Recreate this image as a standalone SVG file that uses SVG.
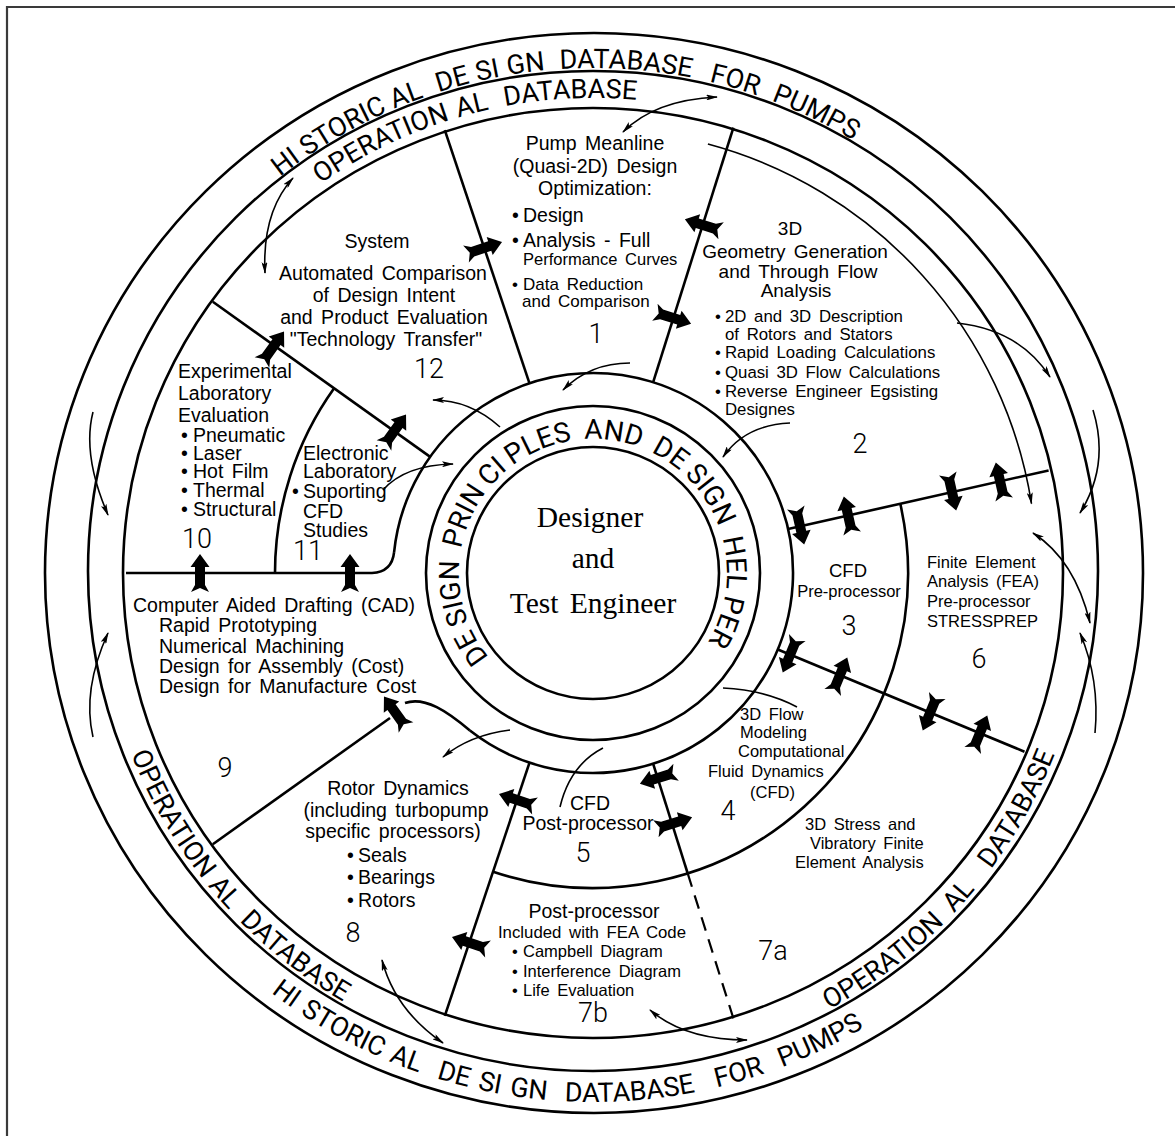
<svg xmlns="http://www.w3.org/2000/svg" width="1175" height="1136" viewBox="0 0 1175 1136">
  <style>
    .ln { fill: none; stroke: #000; stroke-width: 2.6; }
    .dash { fill: none; stroke: #000; stroke-width: 2.2; stroke-dasharray: 14 9; }
    .thin { fill: none; stroke: #000; stroke-width: 1.6; }
    .frame { fill: none; stroke: #3a3a3a; stroke-width: 2.2; }
    .t { font-family: "Liberation Sans", Arial, sans-serif; fill: #000; word-spacing: 3px; }
    .s20 { font-size: 19.5px; }
    .s17 { font-size: 16.8px; }
    .mid { text-anchor: middle; }
    .num { font-family: Roboto, "DejaVu Sans", sans-serif; font-weight: 300; font-size: 27px; fill: #000; }
    .ring { font-family: Roboto, "DejaVu Sans", sans-serif; font-size: 27px; fill: #000; }
    .hub { font-family: Roboto, "DejaVu Sans", sans-serif; font-size: 28px; fill: #000; }
    .serif { font-family: "Liberation Serif", "Times New Roman", serif; font-size: 29.5px; text-anchor: middle; fill: #000; word-spacing: 4px; }
    .blk { fill: #000; }
  </style>
  <defs>
    <marker id="ah" viewBox="0 0 12 6" refX="11" refY="3" markerWidth="12" markerHeight="6" markerUnits="userSpaceOnUse" orient="auto-start-reverse">
      <path d="M0,0 L12,3 L0,6 L2.5,3 Z" fill="#000"/>
    </marker>
    <!-- fletched block arrow, pointing along +x, centred on its shaft -->
    <path id="ba" d="M19,0 L6,-9.5 L6,-5 L-12,-5 L-19,-9 L-15,0 L-19,9 L-12,5 L6,5 L6,9.5 Z"/>
    <!-- baselines for the lettering on the rings (centre 593,573) -->
    <path id="histTop" d="M206.2,248.4 A505,505 0 0 1 950.1,215.9"/>
    <path id="histBot" d="M187.8,913 A529,529 0 0 0 967.1,947.1"/>
    <path id="opTop" d="M229.1,267.7 A475,475 0 0 1 755.5,126.6"/>
    <path id="opLeft" d="M104.5,659.1 A496,496 0 0 0 464.6,1052.1"/>
    <path id="opRight" d="M721.4,1052.1 A496,496 0 0 0 1081.5,659.1"/>
    <path id="hubPath" d="M506.9,675.6 A134,134 0 1 1 695.6,659.1"/>
  </defs>

  <rect width="1175" height="1136" fill="#fff"/>
  <path class="frame" d="M7,1136 L7,7 L1175,7"/>

  <!-- outer database rings -->
  <g id="historical-database">
    <ellipse class="ln" cx="594" cy="573" rx="549" ry="540"/>
    <text class="ring"><textPath href="#histTop" startOffset="103.1">HI</textPath></text>
    <text class="ring"><textPath href="#histTop" startOffset="137">STORIC</textPath></text>
    <text class="ring"><textPath href="#histTop" startOffset="236.2">AL</textPath></text>
    <text class="ring"><textPath href="#histTop" startOffset="283.6">DE</textPath></text>
    <text class="ring"><textPath href="#histTop" startOffset="324.2">SI</textPath></text>
    <text class="ring"><textPath href="#histTop" startOffset="355.3">GN</textPath></text>
    <text class="ring"><textPath href="#histTop" startOffset="407.5">DATABASE</textPath></text>
    <text class="ring"><textPath href="#histTop" startOffset="557.6">FOR</textPath></text>
    <text class="ring"><textPath href="#histTop" startOffset="622.7">PUMPS</textPath></text>
    <text class="ring"><textPath href="#histBot" startOffset="115.4">HI</textPath></text>
    <text class="ring"><textPath href="#histBot" startOffset="150.9">STORIC</textPath></text>
    <text class="ring"><textPath href="#histBot" startOffset="251.8">AL</textPath></text>
    <text class="ring"><textPath href="#histBot" startOffset="302.5">DE</textPath></text>
    <text class="ring"><textPath href="#histBot" startOffset="344.8">SI</textPath></text>
    <text class="ring"><textPath href="#histBot" startOffset="377.5">GN</textPath></text>
    <text class="ring"><textPath href="#histBot" startOffset="433">DATABASE</textPath></text>
    <text class="ring"><textPath href="#histBot" startOffset="586.4">FOR</textPath></text>
    <text class="ring"><textPath href="#histBot" startOffset="654.8">PUMPS</textPath></text>
  </g>
  <g id="operational-database">
    <ellipse class="ln" cx="593" cy="571" rx="505" ry="500"/>
    <ellipse class="ln" cx="593" cy="573" rx="470" ry="465"/>
    <text class="ring"><textPath href="#opTop" startOffset="124.4">OPERATION</textPath></text>
    <text class="ring"><textPath href="#opTop" startOffset="277.9">AL</textPath></text>
    <text class="ring"><textPath href="#opTop" startOffset="326.1">DATABASE</textPath></text>
    <text class="ring"><textPath href="#opLeft" startOffset="98.7">OPERATION</textPath></text>
    <text class="ring"><textPath href="#opLeft" startOffset="251.7">AL</textPath></text>
    <text class="ring"><textPath href="#opLeft" startOffset="298.9">DATABASE</textPath></text>
    <text class="ring"><textPath href="#opRight" startOffset="116">OPERATION</textPath></text>
    <text class="ring"><textPath href="#opRight" startOffset="274.2">AL</textPath></text>
    <text class="ring"><textPath href="#opRight" startOffset="331.8">DATABASE</textPath></text>
  </g>

  <!-- central hub -->
  <g id="design-helper">
    <path class="ln" d="M394.1,552.1 A200,200 0 1 1 469.9,730.6"/>
    <circle class="ln" cx="593" cy="573" r="167"/>
    <text class="hub"><textPath href="#hubPath" startOffset="25.7">DE</textPath></text>
    <text class="hub"><textPath href="#hubPath" startOffset="66.1">SIGN</textPath></text>
    <text class="hub"><textPath href="#hubPath" startOffset="141">PRIN</textPath></text>
    <text class="hub"><textPath href="#hubPath" startOffset="209.3">CI</textPath></text>
    <text class="hub"><textPath href="#hubPath" startOffset="241">PLES</textPath></text>
    <text class="hub"><textPath href="#hubPath" startOffset="318.6">AND</textPath></text>
    <text class="hub"><textPath href="#hubPath" startOffset="387.1">DE</textPath></text>
    <text class="hub"><textPath href="#hubPath" startOffset="427.5">SIGN</textPath></text>
    <text class="hub"><textPath href="#hubPath" startOffset="502.4">HEL</textPath></text>
    <text class="hub"><textPath href="#hubPath" startOffset="559.1">PER</textPath></text>
  </g>
  <g id="designer">
    <circle class="ln" cx="593" cy="573" r="126"/>
    <text class="serif" x="590" y="527">Designer</text>
    <text class="serif" x="593" y="568">and</text>
    <text class="serif" x="593" y="613">Test Engineer</text>
  </g>

  <!-- sector boundaries and links -->
  <g id="connectors">
    <path class="ln" d="M529.5,383.3 L444.8,130.1"/>
    <path class="ln" d="M653.1,382.3 L733.4,127.6"/>
    <path class="ln" d="M788.1,529 L1048.6,470.4"/>
    <path class="ln" d="M777.8,649.5 L1024.5,751.7"/>
    <path class="ln" d="M653.1,763.7 L687.7,873.4"/>
    <path class="dash" d="M687.7,873.4 L733.4,1018.4"/>
    <path class="ln" d="M529.5,762.7 L444.8,1015.9"/>
    <path class="ln" d="M212.8,844.2 L390,718"/>
    <path class="ln" d="M126,573 L372,573 Q392,572 394.1,552.1"/>
    <path class="ln" d="M212.8,301.8 L430.2,456.9"/>
    <path class="ln" d="M334.1,388.3 A318,318 0 0 0 275,573"/>
    <path class="ln" d="M900.3,503.8 A315,315 0 0 1 493.1,871.7"/>
    <path class="ln" d="M405,703 C425,696 448,712 469.9,730.6"/>

    <!-- long curved arrow through sector 2 -->
    <path class="thin" marker-end="url(#ah)" d="M707.9,144.1 A444,444 0 0 1 1031.5,503.6"/>

    <!-- exchanges with the database rings -->
    <path class="thin" marker-start="url(#ah)" marker-end="url(#ah)" d="M265,273 Q262,212 293,178"/>
    <path class="thin" marker-start="url(#ah)" marker-end="url(#ah)" d="M623,132 Q655,100 717,97"/>
    <path class="thin" marker-end="url(#ah)" d="M957,323 Q1020,330 1050,377"/>
    <path class="thin" marker-end="url(#ah)" d="M1093,410 Q1110,465 1080,513"/>
    <path class="thin" marker-start="url(#ah)" marker-end="url(#ah)" d="M1033,533 Q1075,560 1090,623"/>
    <path class="thin" marker-start="url(#ah)" d="M1080,633 Q1100,680 1095,733"/>
    <path class="thin" marker-end="url(#ah)" d="M93,412 Q82,455 108,515"/>
    <path class="thin" marker-end="url(#ah)" d="M93,737 Q82,690 108,633"/>
    <path class="thin" marker-start="url(#ah)" marker-end="url(#ah)" d="M382,960 Q395,1010 443,1043"/>
    <path class="thin" marker-start="url(#ah)" marker-end="url(#ah)" d="M650,1010 Q685,1040 747,1040"/>

    <!-- exchanges with the design helper -->
    <path class="thin" marker-end="url(#ah)" d="M630,363 Q590,363 563,390"/>
    <path class="thin" marker-end="url(#ah)" d="M500,427 Q470,400 433,400"/>
    <path class="thin" marker-end="url(#ah)" d="M790,423 Q745,425 723,457"/>
    <path class="thin" marker-end="url(#ah)" d="M383,490 Q405,465 453,464"/>
    <path class="thin" marker-end="url(#ah)" d="M510,730 Q470,735 443,757"/>
    <path class="thin" d="M560,807 Q570,765 603,748"/>
    <path class="thin" d="M723,688 Q765,690 797,707"/>

    <!-- block arrows between neighbouring tasks -->
    <use href="#ba" class="blk" transform="translate(484,248) rotate(-18.5)"/>
    <use href="#ba" class="blk" transform="translate(703,225) rotate(-162.5)"/>
    <use href="#ba" class="blk" transform="translate(673,318) rotate(17.5)"/>
    <use href="#ba" class="blk" transform="translate(273,347) rotate(-54.5)"/>
    <use href="#ba" class="blk" transform="translate(395,430) rotate(-54.5)"/>
    <use href="#ba" class="blk" transform="translate(200,573) rotate(-90)"/>
    <use href="#ba" class="blk" transform="translate(350,573) rotate(-90)"/>
    <use href="#ba" class="blk" transform="translate(395,712) rotate(-125.5)"/>
    <use href="#ba" class="blk" transform="translate(517,800) rotate(198.5)"/>
    <use href="#ba" class="blk" transform="translate(658,778) rotate(162.5)"/>
    <use href="#ba" class="blk" transform="translate(674,823) rotate(-17.5)"/>
    <use href="#ba" class="blk" transform="translate(470,943) rotate(198.5)"/>
    <use href="#ba" class="blk" transform="translate(800,526) rotate(77.3)"/>
    <use href="#ba" class="blk" transform="translate(848,515) rotate(-102.7)"/>
    <use href="#ba" class="blk" transform="translate(952,492) rotate(77.3)"/>
    <use href="#ba" class="blk" transform="translate(1000,481) rotate(-102.7)"/>
    <use href="#ba" class="blk" transform="translate(790,655) rotate(112.5)"/>
    <use href="#ba" class="blk" transform="translate(840,675) rotate(-67.5)"/>
    <use href="#ba" class="blk" transform="translate(930,713) rotate(112.5)"/>
    <use href="#ba" class="blk" transform="translate(980,733) rotate(-67.5)"/>
  </g>

  <!-- task sectors -->
  <g id="sector-1">
    <text class="t s20 mid" x="595" y="150">Pump Meanline</text>
    <text class="t s20 mid" x="595" y="173">(Quasi-2D) Design</text>
    <text class="t s20 mid" x="595" y="195">Optimization:</text>
    <text class="t s20" y="222"><tspan x="512">•</tspan><tspan x="523">Design</tspan></text>
    <text class="t s20" y="247"><tspan x="512">•</tspan><tspan x="523">Analysis - Full</tspan></text>
    <text class="t" font-size="16.5" x="523" y="265">Performance Curves</text>
    <text class="t" font-size="17" y="290"><tspan x="512">•</tspan><tspan x="523">Data Reduction</tspan></text>
    <text class="t" font-size="17" x="522" y="307">and Comparison</text>
    <text class="num mid" x="596" y="343">1</text>
  </g>
  <g id="sector-2">
    <text class="t mid" font-size="19" x="790" y="235">3D</text>
    <text class="t mid" font-size="19" x="795" y="258">Geometry Generation</text>
    <text class="t mid" font-size="19" x="798" y="278">and Through Flow</text>
    <text class="t mid" font-size="19" x="796" y="297">Analysis</text>
    <text class="t s17" y="322"><tspan x="715">•</tspan><tspan x="725">2D and 3D Description</tspan></text>
    <text class="t s17" x="725" y="340">of Rotors and Stators</text>
    <text class="t s17" y="358"><tspan x="715">•</tspan><tspan x="725">Rapid Loading Calculations</tspan></text>
    <text class="t s17" y="378"><tspan x="715">•</tspan><tspan x="725">Quasi 3D Flow Calculations</tspan></text>
    <text class="t s17" y="397"><tspan x="715">•</tspan><tspan x="725">Reverse Engineer Egsisting</tspan></text>
    <text class="t s17" x="725" y="415">Designes</text>
    <text class="num mid" x="860" y="453">2</text>
  </g>
  <g id="sector-3">
    <text class="t mid" font-size="18.5" x="848" y="577">CFD</text>
    <text class="t mid" font-size="16.5" x="849" y="597">Pre-processor</text>
    <text class="num mid" x="849" y="635">3</text>
  </g>
  <g id="sector-4">
    <text class="t" font-size="16.5" x="740" y="720">3D Flow</text>
    <text class="t" font-size="16.5" x="740" y="738">Modeling</text>
    <text class="t" font-size="16.5" x="738" y="757">Computational</text>
    <text class="t" font-size="16.5" x="708" y="777">Fluid Dynamics</text>
    <text class="t" font-size="16.5" x="750" y="798">(CFD)</text>
    <text class="num mid" x="728" y="820">4</text>
  </g>
  <g id="sector-5">
    <text class="t s20 mid" x="590" y="810">CFD</text>
    <text class="t s20 mid" x="588" y="830">Post-processor</text>
    <text class="num mid" x="583" y="862">5</text>
  </g>
  <g id="sector-6">
    <text class="t" font-size="16.5" x="927" y="568">Finite Element</text>
    <text class="t" font-size="16.5" x="927" y="587">Analysis (FEA)</text>
    <text class="t" font-size="16.5" x="927" y="607">Pre-processor</text>
    <text class="t" font-size="16.5" x="927" y="627">STRESSPREP</text>
    <text class="num mid" x="979" y="668">6</text>
  </g>
  <g id="sector-7a">
    <text class="t" font-size="16.5" x="805" y="830">3D Stress and</text>
    <text class="t" font-size="16.5" x="810" y="849">Vibratory Finite</text>
    <text class="t" font-size="16.5" x="795" y="868">Element Analysis</text>
    <text class="num mid" x="773" y="960">7a</text>
  </g>
  <g id="sector-7b">
    <text class="t s20 mid" x="594" y="918">Post-processor</text>
    <text class="t s17 mid" x="592" y="938">Included with FEA Code</text>
    <text class="t" font-size="16.5" y="957"><tspan x="512">•</tspan><tspan x="523">Campbell Diagram</tspan></text>
    <text class="t" font-size="16.5" y="977"><tspan x="512">•</tspan><tspan x="523">Interference Diagram</tspan></text>
    <text class="t" font-size="16.5" y="996"><tspan x="512">•</tspan><tspan x="523">Life Evaluation</tspan></text>
    <text class="num mid" x="593" y="1022">7b</text>
  </g>
  <g id="sector-8">
    <text class="t s20 mid" x="398" y="795">Rotor Dynamics</text>
    <text class="t s20 mid" x="396" y="817">(including turbopump</text>
    <text class="t s20 mid" x="393" y="838">specific processors)</text>
    <text class="t s20" y="862"><tspan x="347">•</tspan><tspan x="358">Seals</tspan></text>
    <text class="t s20" y="884"><tspan x="347">•</tspan><tspan x="358">Bearings</tspan></text>
    <text class="t s20" y="907"><tspan x="347">•</tspan><tspan x="358">Rotors</tspan></text>
    <text class="num mid" x="353" y="942">8</text>
  </g>
  <g id="sector-9">
    <text class="t s20" x="133" y="612">Computer Aided Drafting (CAD)</text>
    <text class="t s20" x="159" y="632">Rapid Prototyping</text>
    <text class="t s20" x="159" y="653">Numerical Machining</text>
    <text class="t s20" x="159" y="673">Design for Assembly (Cost)</text>
    <text class="t s20" x="159" y="693">Design for Manufacture Cost</text>
    <text class="num mid" x="225" y="777">9</text>
  </g>
  <g id="sector-10">
    <text class="t s20" x="178" y="378">Experimental</text>
    <text class="t s20" x="178" y="400">Laboratory</text>
    <text class="t s20" x="178" y="422">Evaluation</text>
    <text class="t s20" y="442"><tspan x="181">•</tspan><tspan x="193">Pneumatic</tspan></text>
    <text class="t s20" y="460"><tspan x="181">•</tspan><tspan x="193">Laser</tspan></text>
    <text class="t s20" y="478"><tspan x="181">•</tspan><tspan x="193">Hot Film</tspan></text>
    <text class="t s20" y="497"><tspan x="181">•</tspan><tspan x="193">Thermal</tspan></text>
    <text class="t s20" y="516"><tspan x="181">•</tspan><tspan x="193">Structural</tspan></text>
    <text class="num mid" x="197" y="548">10</text>
  </g>
  <g id="sector-11">
    <text class="t s20" x="303" y="460">Electronic</text>
    <text class="t s20" x="303" y="478">Laboratory</text>
    <text class="t s20" y="498"><tspan x="292">•</tspan><tspan x="303">Suporting</tspan></text>
    <text class="t s20" x="303" y="518">CFD</text>
    <text class="t s20" x="303" y="537">Studies</text>
    <text class="num mid" x="308" y="560">11</text>
  </g>
  <g id="sector-12">
    <text class="t s20 mid" x="377" y="248">System</text>
    <text class="t s20 mid" x="383" y="280">Automated Comparison</text>
    <text class="t s20 mid" x="384" y="302">of Design Intent</text>
    <text class="t s20 mid" x="384" y="324">and Product Evaluation</text>
    <text class="t s20 mid" x="386" y="346">"Technology Transfer"</text>
    <text class="num mid" x="429" y="378">12</text>
  </g>
</svg>
